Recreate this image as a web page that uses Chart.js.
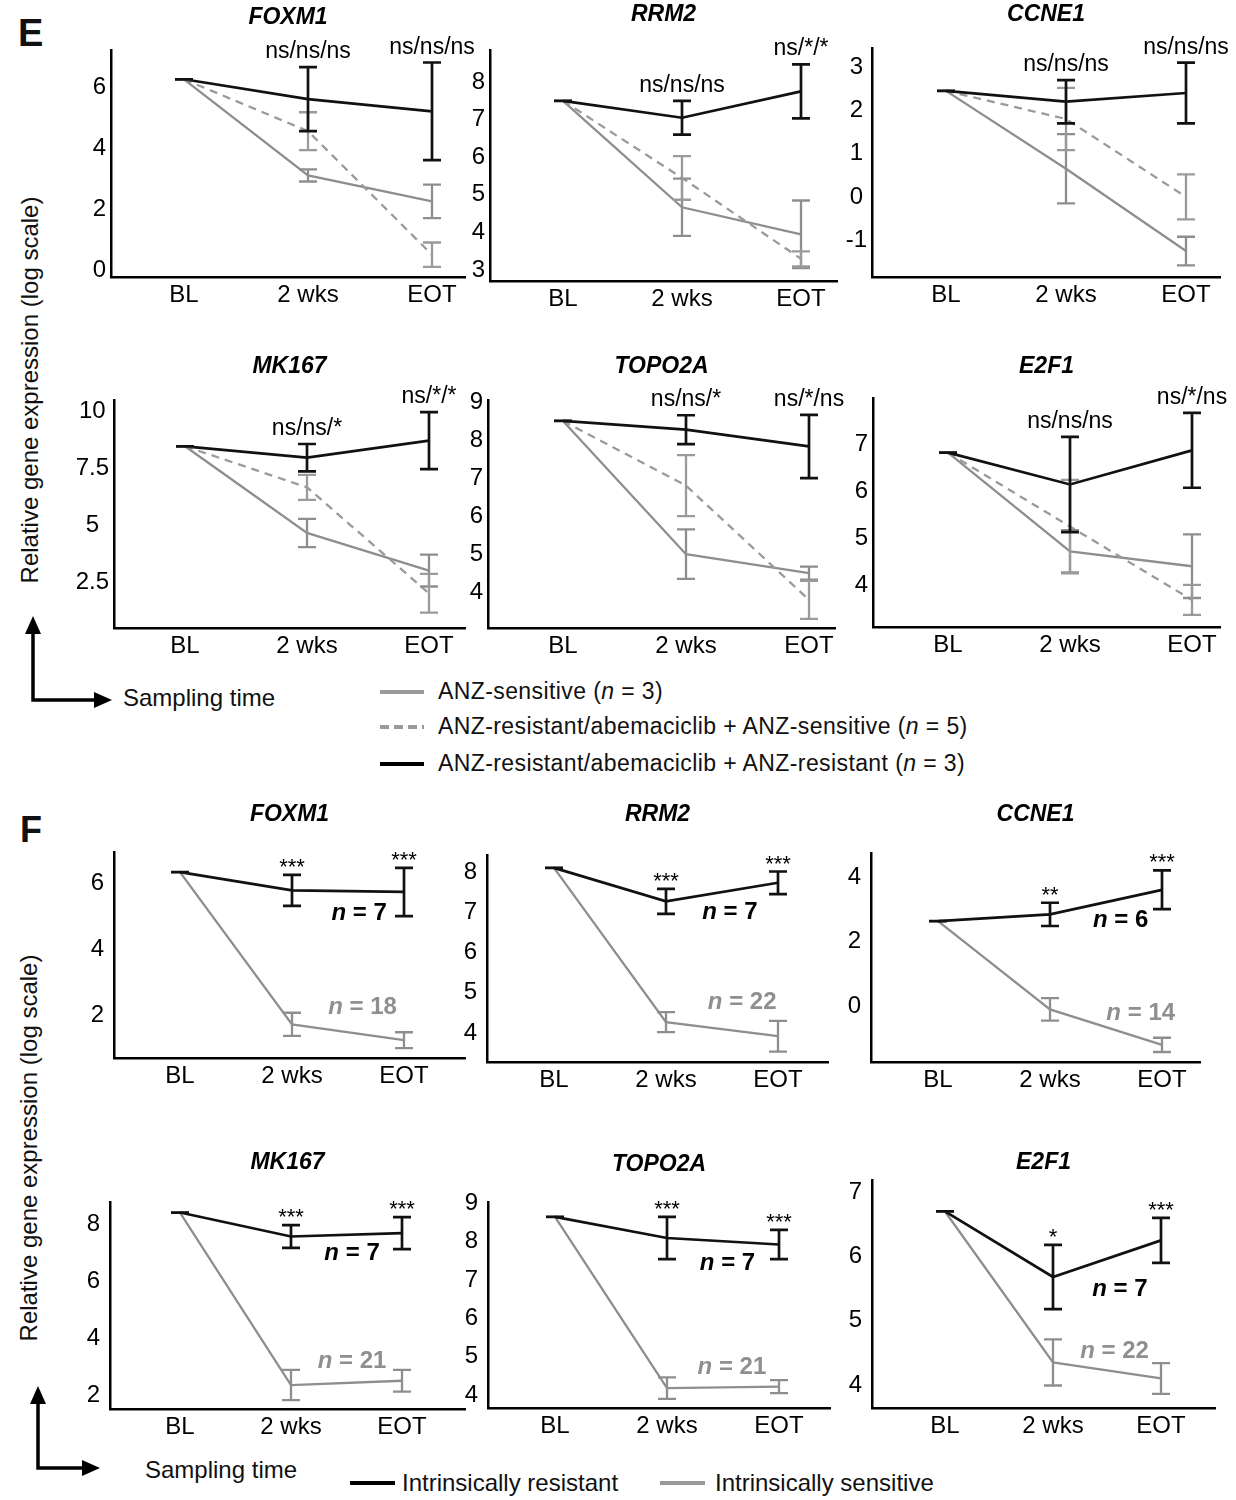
<!DOCTYPE html>
<html>
<head>
<meta charset="utf-8">
<script src="https://cdn.jsdelivr.net/npm/chart.js@4.4.0/dist/chart.umd.min.js"></script>
<style>
  body { margin: 0; background: #fff; width: 1236px; height: 1500px; position: relative; overflow: hidden;
         font-family: "Liberation Sans", Arial, sans-serif; color: #111; }
  canvas { position: absolute; }
  .txt { position: absolute; white-space: nowrap; line-height: 1; }
  .leg { font-size: 23px; letter-spacing: 0.4px; }
  svg { position: absolute; left: 0; top: 0; }
</style>
</head>
<body>

<div class="txt" style="left:18px;top:14px;font-size:38px;font-weight:bold">E</div>
<div class="txt" style="left:20px;top:812px;font-size:36px;font-weight:bold">F</div>

<div class="txt" style="left:30px;top:390px;font-size:24px;transform:translate(-50%,-50%) rotate(-90deg)">Relative gene expression (log scale)</div>
<div class="txt" style="left:29px;top:1148px;font-size:24px;transform:translate(-50%,-50%) rotate(-90deg)">Relative gene expression (log scale)</div>

<div class="txt" style="left:123px;top:686px;font-size:24px">Sampling time</div>
<div class="txt" style="left:145px;top:1458px;font-size:24px">Sampling time</div>

<div class="txt leg" style="left:438px;top:680px">ANZ-sensitive (<i>n</i> = 3)</div>
<div class="txt leg" style="left:438px;top:715px">ANZ-resistant/abemaciclib + ANZ-sensitive (<i>n</i> = 5)</div>
<div class="txt leg" style="left:438px;top:752px">ANZ-resistant/abemaciclib + ANZ-resistant (<i>n</i> = 3)</div>

<div class="txt" style="left:402px;top:1471px;font-size:24px">Intrinsically resistant</div>
<div class="txt" style="left:715px;top:1471px;font-size:24px">Intrinsically sensitive</div>

<svg width="1236" height="1500">
  <g stroke="#000" stroke-width="3.5" fill="none">
    <polyline points="33,632 33,700 98,700"/>
    <polyline points="38,1402 38,1468 86,1468"/>
  </g>
  <g fill="#000">
    <polygon points="33,616 25,634 41,634"/>
    <polygon points="112,700 94,692 94,708"/>
    <polygon points="38,1386 30,1404 46,1404"/>
    <polygon points="100,1468 82,1460 82,1476"/>
  </g>
  <line x1="380" y1="692" x2="424" y2="692" stroke="#9a9a9a" stroke-width="4"/>
  <line x1="380" y1="727" x2="424" y2="727" stroke="#9a9a9a" stroke-width="4" stroke-dasharray="9,5"/>
  <line x1="380" y1="764" x2="424" y2="764" stroke="#000" stroke-width="4"/>
  <line x1="350" y1="1483" x2="395" y2="1483" stroke="#000" stroke-width="4"/>
  <line x1="660" y1="1483" x2="705" y2="1483" stroke="#999" stroke-width="4"/>
</svg>

<script>
// ---- data -------------------------------------------------------------
var timeLabels = ["BL", "2 wks", "EOT"];
var geneNames = ["FOXM1", "RRM2", "CCNE1", "MK167", "TOPO2A", "E2F1"];

// panel E: mean and error at BL / 2 wks / EOT, one row per gene
var eSensitiveMean = [[6.25, 3.1, 2.25], [7.5, 4.67, 3.95], [2.45, 0.65, -1.25], [8.45, 4.65, 3.0], [8.5, 5.0, 4.5], [6.83, 4.72, 4.4]];
var eSensitiveErr  = [[0, 0.2, 0.55], [0, 0.76, 0.9], [0, 0.8, 0.33], [0, 0.62, 0.7], [0, 0.65, 0.17], [0, 0.45, 0.68]];
var eMixedMean     = [[6.25, 4.55, 0.5], [7.5, 5.45, 3.3], [2.45, 1.8, 0.0], [8.45, 6.65, 2.0], [8.5, 6.8, 3.8], [6.83, 5.25, 3.68]];
var eMixedErr      = [[0, 0.62, 0.4], [0, 0.58, 0.2], [0, 0.72, 0.52], [0, 0.55, 0.85], [0, 0.8, 0.5], [0, 1.0, 0.32]];
var eResistantMean = [[6.25, 5.6, 5.2], [7.5, 7.05, 7.75], [2.45, 2.2, 2.4], [8.45, 7.95, 8.7], [8.5, 8.27, 7.83], [6.83, 6.15, 6.88]];
var eResistantErr  = [[0, 1.05, 1.6], [0, 0.45, 0.72], [0, 0.5, 0.7], [0, 0.6, 1.25], [0, 0.38, 0.83], [0, 1.02, 0.8]];
var eYTicks = [[0, 2, 4, 6], [3, 4, 5, 6, 7, 8], [-1, 0, 1, 2, 3], [2.5, 5, 7.5, 10], [4, 5, 6, 7, 8, 9], [4, 5, 6, 7]];
var eSignif = [["", "ns/ns/ns", "ns/ns/ns"], ["", "ns/ns/ns", "ns/*/*"], ["", "ns/ns/ns", "ns/ns/ns"],
               ["", "ns/ns/*", "ns/*/*"], ["", "ns/ns/*", "ns/*/ns"], ["", "ns/ns/ns", "ns/*/ns"]];

// panel F
var fResistantMean = [[6.33, 5.78, 5.73], [8.1, 7.27, 7.73], [2.63, 2.84, 3.6], [8.4, 7.56, 7.68], [8.65, 8.1, 7.93], [6.7, 5.68, 6.25]];
var fResistantErr  = [[0, 0.47, 0.73], [0, 0.31, 0.28], [0, 0.36, 0.6], [0, 0.4, 0.56], [0, 0.55, 0.38], [0, 0.5, 0.35]];
var fSensitiveMean = [[6.33, 1.72, 1.24], [8.1, 4.27, 3.92], [2.63, -0.1, -1.2], [8.4, 2.35, 2.5], [8.65, 4.18, 4.22], [6.7, 4.35, 4.1]];
var fSensitiveErr  = [[0, 0.35, 0.24], [0, 0.25, 0.38], [0, 0.35, 0.22], [0, 0.53, 0.38], [0, 0.28, 0.17], [0, 0.36, 0.24]];
var fYTicks = [[2, 4, 6], [4, 5, 6, 7, 8], [0, 2, 4], [2, 4, 6, 8], [4, 5, 6, 7, 8, 9], [4, 5, 6, 7]];
var fSignif = [["", "***", "***"], ["", "***", "***"], ["", "**", "***"], ["", "***", "***"], ["", "***", "***"], ["", "*", "***"]];
var fResistantN = [7, 7, 6, 7, 7, 7];
var fSensitiveN = [18, 22, 14, 21, 21, 22];

// ---- layout (page pixels: axis left, top, right, bottom, BL x, step) --
var eBoxes = [[111, 50, 465, 277, 184, 124], [490, 50, 837, 281, 563, 119], [872, 48, 1220, 277, 946, 120],
              [114, 400, 465, 628, 185, 122], [488, 400, 835, 628, 563, 123], [873, 398, 1220, 627, 948, 122]];
var eYRange = [[-0.23, 7.21], [2.71, 8.85], [-1.85, 3.44], [0.48, 10.48], [3.06, 9.05], [3.1, 8.0]];
var eTitleY = [18, 15, 15, 367, 367, 367];
var fBoxes = [[114, 852, 465, 1058, 180, 112], [487, 855, 828, 1062, 554, 112], [871, 853, 1200, 1062, 938, 112],
              [110, 1202, 465, 1409, 180, 111], [488, 1202, 830, 1408, 555, 112], [872, 1180, 1215, 1408, 945, 108]];
var fYRange = [[0.7, 6.94], [3.28, 8.42], [-1.73, 4.74], [1.51, 8.77], [3.66, 9.04], [3.64, 7.19]];
var fTitleY = [815, 815, 815, 1163, 1165, 1163];
// where the "n = " labels sit, in data units (x, y) for resistant / sensitive
var fNPos = [[[1.6, 5.09], [1.63, 2.24]], [[1.57, 7.0], [1.68, 4.77]], [[1.63, 2.66], [1.81, -0.22]],
             [[1.55, 6.98], [1.55, 3.19]], [[1.54, 7.45], [1.58, 4.73]], [[1.62, 5.48], [1.57, 4.52]]];

var FONT = '"Liberation Sans", Arial, sans-serif';
var BLACK = "#111", GREY = "#8e8e8e", GREY2 = "#9a9a9a";
var PAD = { l: 62, t: 60, r: 45, b: 45 };

function toXY(arr) {
  return arr.map(function(v, i) { return { x: i, y: v }; });
}

function drawN(ctx, n, x, y, color) {
  ctx.save();
  ctx.fillStyle = color;
  ctx.textBaseline = "middle";
  ctx.font = "italic bold 24px " + FONT;
  var w1 = ctx.measureText("n").width;
  ctx.font = "bold 24px " + FONT;
  var rest = " = " + n;
  var w2 = ctx.measureText(rest).width;
  var x0 = x - (w1 + w2) / 2;
  ctx.textAlign = "left";
  ctx.font = "italic bold 24px " + FONT;
  ctx.fillText("n", x0, y);
  ctx.font = "bold 24px " + FONT;
  ctx.fillText(rest, x0 + w1, y);
  ctx.restore();
}

function makePanel(p) {
  var L = p.box[0], T = p.box[1], R = p.box[2], B = p.box[3], bl = p.box[4], step = p.box[5];
  var canvas = document.createElement("canvas");
  var w = R - L + PAD.l + PAD.r, h = B - T + PAD.t + PAD.b;
  canvas.width = w;
  canvas.height = h;
  canvas.style.left = (L - PAD.l) + "px";
  canvas.style.top = (T - PAD.t) + "px";
  document.body.appendChild(canvas);
  var canvasTop = T - PAD.t;

  var deco = {
    id: "deco",
    afterDatasetsDraw: function(chart) {
      var ctx = chart.ctx, xs = chart.scales.x, ys = chart.scales.y;
      for (var d = chart.data.datasets.length - 1; d >= 0; d--) {
        var ds = chart.data.datasets[d];
        ctx.save();
        ctx.strokeStyle = ds.borderColor;
        ctx.lineWidth = ds.borderWidth;
        ctx.setLineDash([]);
        ds.data.forEach(function(pt, i) {
          var x = xs.getPixelForValue(pt.x);
          var y1 = ys.getPixelForValue(pt.y + ds.err[i]);
          var y2 = ys.getPixelForValue(pt.y - ds.err[i]);
          var cap = 9;
          ctx.beginPath();
          ctx.moveTo(x, y1); ctx.lineTo(x, y2);
          ctx.moveTo(x - cap, y1); ctx.lineTo(x + cap, y1);
          ctx.moveTo(x - cap, y2); ctx.lineTo(x + cap, y2);
          ctx.stroke();
        });
        ctx.restore();
      }
    },
    afterDraw: function(chart) {
      var ctx = chart.ctx, xs = chart.scales.x, ys = chart.scales.y, area = chart.chartArea;
      ctx.save();
      ctx.fillStyle = "#000";
      ctx.textAlign = "center";
      ctx.textBaseline = "middle";
      ctx.font = "italic bold 23px " + FONT;
      ctx.fillText(p.title, (area.left + area.right) / 2, p.titleY - canvasTop);

      // significance marks above the highest error bar
      ctx.textBaseline = "alphabetic";
      ctx.font = p.signifFont;
      p.signif.forEach(function(s, i) {
        if (!s) return;
        var top = -Infinity;
        chart.data.datasets.forEach(function(ds) { top = Math.max(top, ds.data[i].y + ds.err[i]); });
        ctx.fillText(s, xs.getPixelForValue(i), ys.getPixelForValue(top) - p.signifGap);
      });
      ctx.restore();

      if (p.nLabels) {
        p.nLabels.forEach(function(nl) {
          drawN(ctx, nl.n, xs.getPixelForValue(nl.pos[0]), ys.getPixelForValue(nl.pos[1]), nl.color);
        });
      }
    }
  };

  new Chart(canvas.getContext("2d"), {
    type: "line",
    data: { datasets: p.datasets },
    options: {
      responsive: false,
      animation: false,
      devicePixelRatio: 1,
      layout: { padding: { left: 0, top: PAD.t, right: PAD.r, bottom: 0 } },
      plugins: { legend: { display: false }, tooltip: { enabled: false } },
      elements: { point: { radius: 0 }, line: { tension: 0 } },
      scales: {
        x: {
          type: "linear",
          min: (L - bl) / step,
          max: (R - bl) / step,
          afterBuildTicks: function(s) { s.ticks = [0, 1, 2].map(function(v) { return { value: v }; }); },
          afterFit: function(s) { s.height = PAD.b; },
          grid: { display: false, drawTicks: false },
          border: { display: true, color: "#000", width: 2.5 },
          ticks: { padding: 4, color: "#000", font: { family: FONT, size: 24 },
                   callback: function(v) { return timeLabels[v]; } }
        },
        y: {
          type: "linear",
          min: p.yRange[0],
          max: p.yRange[1],
          afterBuildTicks: function(s) { s.ticks = p.yTicks.map(function(v) { return { value: v }; }); },
          afterFit: function(s) { s.width = PAD.l; },
          grid: { display: false, drawTicks: false },
          border: { display: true, color: "#000", width: 2.5 },
          ticks: { padding: p.yPad, crossAlign: "center", color: "#000", font: { family: FONT, size: 24 },
                   callback: function(v) { return String(v); } }
        }
      }
    },
    plugins: [deco]
  });
}

// panel E charts
for (var g = 0; g < geneNames.length; g++) {
  makePanel({
    title: geneNames[g],
    titleY: eTitleY[g],
    box: eBoxes[g],
    yRange: eYRange[g],
    yTicks: eYTicks[g],
    yPad: 5,
    signif: eSignif[g],
    signifFont: "23px " + FONT,
    signifGap: 9,
    datasets: [
      { data: toXY(eResistantMean[g]), err: eResistantErr[g], borderColor: BLACK, borderWidth: 2.7 },
      { data: toXY(eMixedMean[g]), err: eMixedErr[g], borderColor: GREY2, borderWidth: 2.3, borderDash: [8, 6] },
      { data: toXY(eSensitiveMean[g]), err: eSensitiveErr[g], borderColor: GREY, borderWidth: 2.3 }
    ]
  });
}

// panel F charts
for (var k = 0; k < geneNames.length; k++) {
  makePanel({
    title: geneNames[k],
    titleY: fTitleY[k],
    box: fBoxes[k],
    yRange: fYRange[k],
    yTicks: fYTicks[k],
    yPad: 10,
    signif: fSignif[k],
    signifFont: "22px " + FONT,
    signifGap: 1,
    datasets: [
      { data: toXY(fResistantMean[k]), err: fResistantErr[k], borderColor: BLACK, borderWidth: 2.7 },
      { data: toXY(fSensitiveMean[k]), err: fSensitiveErr[k], borderColor: GREY, borderWidth: 2.3 }
    ],
    nLabels: [
      { n: fResistantN[k], pos: fNPos[k][0], color: "#000" },
      { n: fSensitiveN[k], pos: fNPos[k][1], color: "#8f8f8f" }
    ]
  });
}
</script>
</body>
</html>
